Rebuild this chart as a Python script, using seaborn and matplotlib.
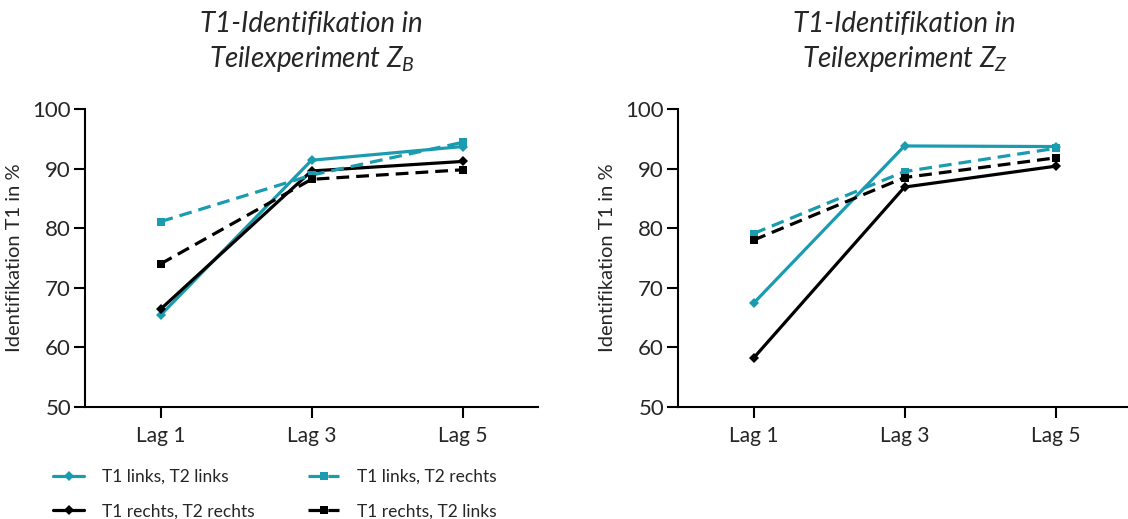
import pandas as pd
import matplotlib
matplotlib.use("Agg")
import matplotlib.pyplot as plt
import seaborn as sns

# data
lags = ["Lag 1", "Lag 3", "Lag 5"]
series_names = ["T1 links, T2 links", "T1 rechts, T2 rechts",
                "T1 links, T2 rechts", "T1 rechts, T2 links"]

zb_links_links = [65.4, 91.4, 93.7]
zb_rechts_rechts = [66.4, 89.6, 91.2]
zb_links_rechts = [81.1, 88.9, 94.4]
zb_rechts_links = [74.0, 88.2, 89.8]

zz_links_links = [67.4, 93.8, 93.7]
zz_rechts_rechts = [58.2, 86.9, 90.4]
zz_links_rechts = [79.1, 89.5, 93.4]
zz_rechts_links = [78.0, 88.5, 91.8]

y_ticks = [50, 60, 70, 80, 90, 100]

teal = "#1a9bb0"
styles = {
    "T1 links, T2 links": dict(color=teal, linestyle="-", marker="D", markersize=5),
    "T1 rechts, T2 rechts": dict(color="black", linestyle="-", marker="D", markersize=5),
    "T1 links, T2 rechts": dict(color=teal, linestyle=(0, (4, 2.2)), marker="s", markersize=6),
    "T1 rechts, T2 links": dict(color="black", linestyle=(0, (4, 2.2)), marker="s", markersize=6),
}

sns.set_theme(style="ticks")
plt.rcParams["font.family"] = ["Lato", "DejaVu Sans"]
plt.rcParams["mathtext.fontset"] = "custom"
plt.rcParams["mathtext.rm"] = "Lato"
plt.rcParams["mathtext.it"] = "Lato:italic"

fig = plt.figure(figsize=(11.28, 5.19), dpi=100)
W, H = 1128, 519
ax1 = fig.add_axes([85 / W, 1 - 407 / H, 453 / W, 298 / H])
ax2 = fig.add_axes([678 / W, 1 - 407 / H, 453 / W, 298 / H])

panels = [
    (ax1, [zb_links_links, zb_rechts_rechts, zb_links_rechts, zb_rechts_links],
     "T1-Identifikation in\nTeilexperiment $Z_B$"),
    (ax2, [zz_links_links, zz_rechts_rechts, zz_links_rechts, zz_rechts_links],
     "T1-Identifikation in\nTeilexperiment $Z_Z$"),
]

for ax, values, title in panels:
    for name, vals in zip(series_names, values):
        df = pd.DataFrame({"lag": lags, "wert": vals})
        st = styles[name]
        sns.lineplot(data=df, x="lag", y="wert", ax=ax, color=st["color"],
                     linestyle=st["linestyle"], marker=st["marker"],
                     markersize=st["markersize"], markeredgewidth=0,
                     linewidth=2.3, label=name, legend=False, sort=False)
    ax.set_xlim(-0.5, 2.5)
    ax.set_ylim(50, 100)
    ax.set_yticks(y_ticks)
    ax.set_xlabel("")
    ax.set_ylabel("Identifikation T1 in %", fontsize=14.5, labelpad=7)
    ax.set_title(title, fontsize=20, style="italic", pad=30, linespacing=1.3)
    ax.tick_params(axis="both", width=1.5, length=8, color="black")
    ax.tick_params(axis="y", labelsize=16, pad=2)
    ax.tick_params(axis="x", labelsize=15, pad=6)
    for s in ["left", "bottom"]:
        ax.spines[s].set_linewidth(1.5)
        ax.spines[s].set_color("black")
    sns.despine(ax=ax)

handles, labels = ax1.get_legend_handles_labels()
fig.legend(handles, labels, loc="upper left", bbox_to_anchor=(46 / W, 1 - 462 / H),
           ncol=2, frameon=False, fontsize=12.5, handlelength=1.8, handletextpad=1.0,
           columnspacing=3.1, labelspacing=1.05, borderaxespad=0)

fig.savefig("out.png", dpi=100)
